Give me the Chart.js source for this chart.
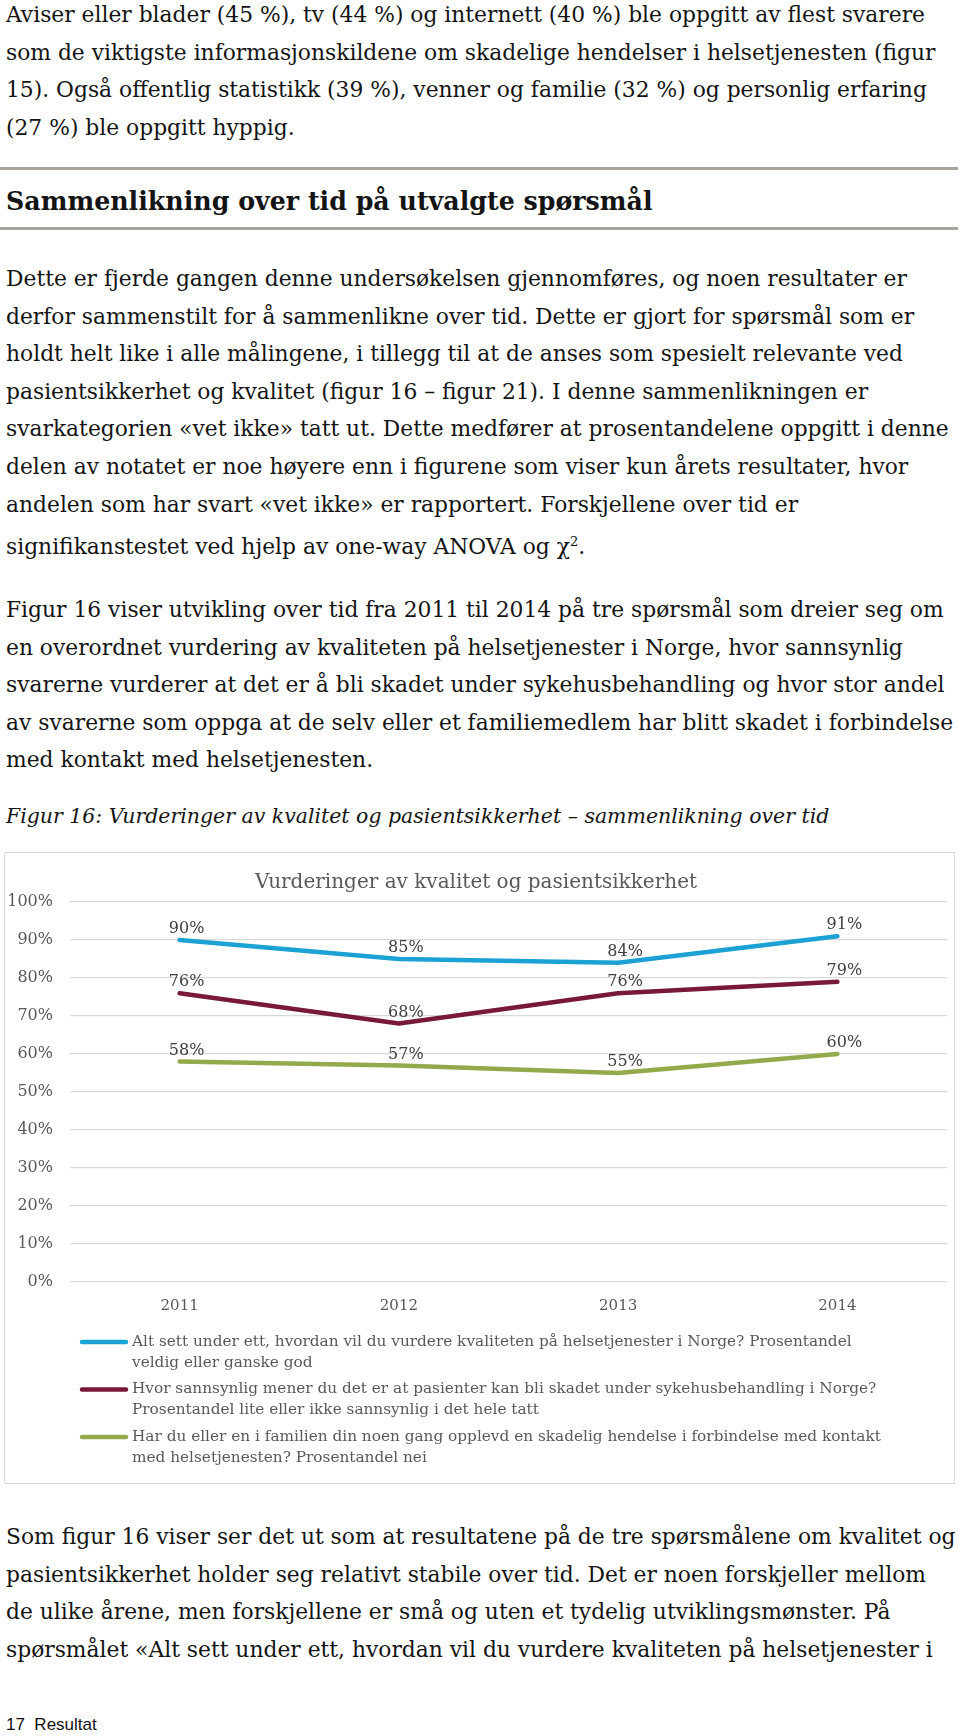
<!DOCTYPE html>
<html>
<head>
<meta charset="utf-8">
<script src="https://cdn.jsdelivr.net/npm/chart.js@4.4.1/dist/chart.umd.min.js"></script>
<style>
body { margin: 0; width: 960px; height: 1736px; position: relative; background: #fff; overflow: hidden;
  font-family: "DejaVu Serif", Georgia, serif; color: #141414; }
.tekst { position: absolute; left: 6px; white-space: nowrap; font-size: 19px; line-height: 37.6px; }
.tekst span { display: inline-block; }
.strek { position: absolute; left: 0; width: 958px; height: 3px; background: #a9a39d; }
#overskrift { position: absolute; left: 6px; top: 185px; font-weight: bold; font-size: 23px; line-height: 32px; white-space: nowrap; }
#figurtekst { position: absolute; left: 6px; top: 798px; font-style: italic; font-size: 19px; line-height: 37.6px; white-space: nowrap; }
#figurboks { position: absolute; left: 4px; top: 852px; width: 951px; height: 632px; border: 1px solid #d9d9d9; box-sizing: border-box; }
#figurboks canvas { display: block; }
#bunn { position: absolute; left: 6px; top: 1714px; font-family: "Liberation Sans", Arial, sans-serif; font-size: 17px; line-height: 22px; color: #111; }
</style>
</head>
<body>

<div class="tekst" id="avsnitt1" style="top:-4px">
<span>Aviser eller blader (45 %), tv (44 %) og internett (40 %) ble oppgitt av flest svarere</span><br>
<span>som de viktigste informasjonskildene om skadelige hendelser i helsetjenesten (figur</span><br>
<span>15). Også offentlig statistikk (39 %), venner og familie (32 %) og personlig erfaring</span><br>
<span>(27 %) ble oppgitt hyppig.</span>
</div>

<div class="strek" style="top:167px"></div>
<div id="overskrift">Sammenlikning over tid på utvalgte spørsmål</div>
<div class="strek" style="top:227px"></div>

<div class="tekst" id="avsnitt2" style="top:260px">
<span>Dette er fjerde gangen denne undersøkelsen gjennomføres, og noen resultater er</span><br>
<span>derfor sammenstilt for å sammenlikne over tid. Dette er gjort for spørsmål som er</span><br>
<span>holdt helt like i alle målingene, i tillegg til at de anses som spesielt relevante ved</span><br>
<span>pasientsikkerhet og kvalitet (figur 16 – figur 21). I denne sammenlikningen er</span><br>
<span id="referanse">svarkategorien «vet ikke» tatt ut. Dette medfører at prosentandelene oppgitt i denne</span><br>
<span>delen av notatet er noe høyere enn i figurene som viser kun årets resultater, hvor</span><br>
<span>andelen som har svart «vet ikke» er rapportert. Forskjellene over tid er</span><br>
<span>signifikanstestet ved hjelp av one-way ANOVA og χ<sup style="font-size:0.6em">2</sup>.</span>
</div>

<div class="tekst" id="avsnitt3" style="top:591px">
<span>Figur 16 viser utvikling over tid fra 2011 til 2014 på tre spørsmål som dreier seg om</span><br>
<span>en overordnet vurdering av kvaliteten på helsetjenester i Norge, hvor sannsynlig</span><br>
<span>svarerne vurderer at det er å bli skadet under sykehusbehandling og hvor stor andel</span><br>
<span>av svarerne som oppga at de selv eller et familiemedlem har blitt skadet i forbindelse</span><br>
<span>med kontakt med helsetjenesten.</span>
</div>

<div id="figurtekst">Figur 16: Vurderinger av kvalitet og pasientsikkerhet – sammenlikning over tid</div>

<div id="figurboks"><canvas id="grafikk" width="949" height="630" style="width:949px;height:630px"></canvas></div>

<div class="tekst" id="avsnitt4" style="top:1518px">
<span>Som figur 16 viser ser det ut som at resultatene på de tre spørsmålene om kvalitet og</span><br>
<span>pasientsikkerhet holder seg relativt stabile over tid. Det er noen forskjeller mellom</span><br>
<span>de ulike årene, men forskjellene er små og uten et tydelig utviklingsmønster. På</span><br>
<span>spørsmålet «Alt sett under ett, hvordan vil du vurdere kvaliteten på helsetjenester i</span>
</div>

<div id="bunn">17&nbsp;&nbsp;Resultat</div>

<script>
const aar = ['2011', '2012', '2013', '2014'];
const kvalitet = [90, 85, 84, 91];
const sannsynlig = [76, 68, 76, 79];
const skadeNei = [58, 57, 55, 60];

const forklaringKvalitet = ['Alt sett under ett, hvordan vil du vurdere kvaliteten på helsetjenester i Norge? Prosentandel', 'veldig eller ganske god'];
const forklaringSannsynlig = ['Hvor sannsynlig mener du det er at pasienter kan bli skadet under sykehusbehandling i Norge?', 'Prosentandel lite eller ikke sannsynlig i det hele tatt'];
const forklaringSkade = ['Har du eller en i familien din noen gang opplevd en skadelig hendelse i forbindelse med kontakt', 'med helsetjenesten? Prosentandel nei'];

const farger = ['#1ba1d3', '#78183b', '#93a94b'];
const skrift = 'DejaVu Serif';

// tilpass brødtekst til bredden i originalen
function tilpass(ref, maal, elementer) {
    const b = ref.getBoundingClientRect().width;
    const fs = parseFloat(getComputedStyle(ref).fontSize);
    elementer.forEach(e => e.style.fontSize = (fs * maal / b) + 'px');
}
tilpass(document.getElementById('referanse'), 943, document.querySelectorAll('.tekst'));
tilpass(document.getElementById('overskrift'), 647, [document.getElementById('overskrift')]);
tilpass(document.getElementById('figurtekst'), 824, [document.getElementById('figurtekst')]);

const etiketter = {
    id: 'etiketter',
    afterDatasetsDraw(chart) {
        const ctx = chart.ctx;
        ctx.save();
        ctx.font = '16px "' + skrift + '"';
        ctx.fillStyle = '#404040';
        ctx.textAlign = 'center';
        ctx.textBaseline = 'middle';
        chart.data.datasets.forEach((ds, i) => {
            chart.getDatasetMeta(i).data.forEach((p, j) => {
                ctx.fillText(ds.data[j] + '%', p.x + 7, p.y - 11);
            });
        });
        ctx.restore();
    }
};

const forklaring = {
    id: 'forklaring',
    afterDraw(chart) {
        const ctx = chart.ctx;
        ctx.save();
        let y = 489;
        chart.data.datasets.forEach(ds => {
            ctx.strokeStyle = ds.borderColor;
            ctx.lineWidth = 4.5;
            ctx.lineCap = 'round';
            ctx.beginPath();
            ctx.moveTo(77, y);
            ctx.lineTo(121, y);
            ctx.stroke();
            ctx.font = '15.3px "' + skrift + '"';
            ctx.fillStyle = '#595959';
            ctx.textBaseline = 'middle';
            ds.linjer.forEach((l, k) => ctx.fillText(l, 127, y + k * 21));
            y += 47.5;
        });
        ctx.restore();
    }
};

function serie(navn, data, farge) {
    return {
        label: navn.join(' '),
        linjer: navn,
        data: data,
        borderColor: farge,
        backgroundColor: farge,
        borderWidth: 4.5,
        borderCapStyle: 'round',
        borderJoinStyle: 'round',
        pointRadius: 0,
        tension: 0
    };
}

new Chart(document.getElementById('grafikk'), {
    type: 'line',
    data: {
        labels: aar,
        datasets: [
            serie(forklaringKvalitet, kvalitet, farger[0]),
            serie(forklaringSannsynlig, sannsynlig, farger[1]),
            serie(forklaringSkade, skadeNei, farger[2])
        ]
    },
    options: {
        responsive: false,
        animation: false,
        devicePixelRatio: 1,
        layout: { padding: { left: 0, right: 7, top: 0, bottom: 165 } },
        plugins: {
            legend: { display: false },
            tooltip: { enabled: false },
            title: {
                display: true,
                text: 'Vurderinger av kvalitet og pasientsikkerhet',
                color: '#595959',
                font: { family: skrift, size: 20, weight: 'normal', lineHeight: 1.2 },
                padding: { top: 18, bottom: 7 }
            }
        },
        scales: {
            x: {
                offset: true,
                grid: { display: false, offset: true },
                border: { display: false },
                ticks: { color: '#595959', font: { family: skrift, size: 15 }, padding: 7 },
                afterFit: s => { s.height = 36; }
            },
            y: {
                min: 0,
                max: 100,
                ticks: { stepSize: 10, callback: v => v + '%', color: '#595959', font: { family: skrift, size: 16 }, padding: 17 },
                grid: { color: '#d9d9d9', lineWidth: 1.3, drawTicks: false },
                border: { display: false },
                afterFit: s => { s.width = 65; }
            }
        }
    },
    plugins: [etiketter, forklaring]
});
</script>
</body>
</html>
